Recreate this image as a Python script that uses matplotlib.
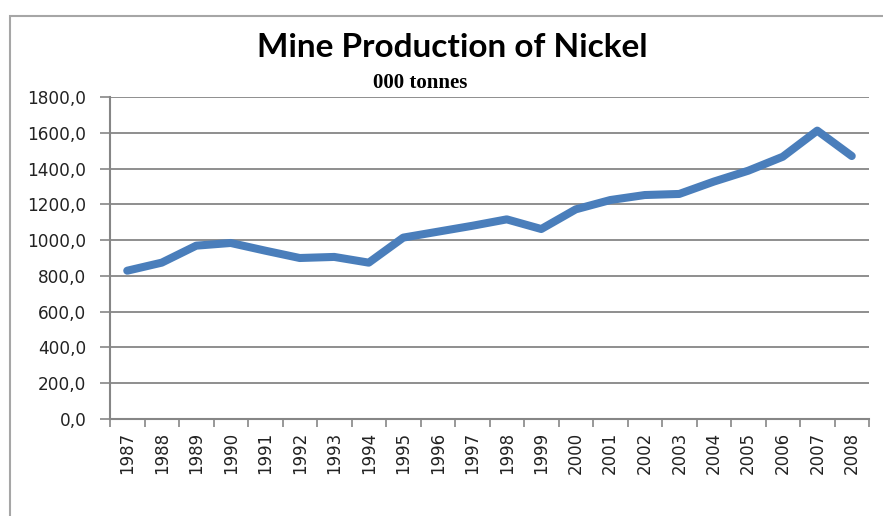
import matplotlib.pyplot as plt
import numpy as np
from matplotlib.patches import Rectangle

years = ["1987", "1988", "1989", "1990", "1991", "1992", "1993", "1994",
         "1995", "1996", "1997", "1998", "1999", "2000", "2001", "2002",
         "2003", "2004", "2005", "2006", "2007", "2008"]
production = [829, 874, 969, 984, 941, 900, 906, 874,
              1014, 1047, 1080, 1116, 1062, 1172, 1224, 1252,
              1258, 1327, 1388, 1466, 1612, 1470]
y_ticks = [0, 200, 400, 600, 800, 1000, 1200, 1400, 1600, 1800]

fig = plt.figure(figsize=(8.83, 5.16), dpi=100)

# outer chart border (cut at right/bottom like the screenshot)
fig.patches.append(Rectangle((10 / 883, -0.1), 1.1, 1 - 16 / 516 + 0.1,
                             transform=fig.transFigure, fill=False,
                             edgecolor="#a6a6a6", linewidth=1.5))

ax = fig.add_axes([110 / 883, 1 - 419 / 516, 759 / 883, 322 / 516])

x = np.arange(len(years))
ax.plot(x, production, color="#4a7ebb", linewidth=5.8, solid_joinstyle="round",
        solid_capstyle="round", zorder=3)

ax.set_xlim(-0.5, len(years) - 0.5)
ax.set_ylim(0, 1800)
ax.set_yticks(y_ticks)
ax.set_yticklabels([f"{v},0" for v in y_ticks], fontsize=12.2, color="#222222")
ax.set_xticks(x)
ax.set_xticklabels(years, rotation=90, fontsize=12, color="#222222")
ax.set_xticks(np.arange(len(years) + 1) - 0.5, minor=True)
ax.tick_params(axis="x", which="major", length=0, pad=9)
ax.tick_params(axis="x", which="minor", length=6, width=1.2, color="#868686")
ax.tick_params(axis="y", length=7, width=1.2, color="#868686", pad=10)

ax.grid(axis="y", color="#868686", linewidth=1.3)
ax.set_axisbelow(True)
for side in ["top", "right"]:
    ax.spines[side].set_visible(False)
for side in ["left", "bottom"]:
    ax.spines[side].set_color("#868686")
    ax.spines[side].set_linewidth(1.5)

fig.text(452 / 883, 1 - 48 / 516, "Mine Production of Nickel", ha="center",
         va="center", fontsize=24, fontweight="bold", family="Lato")
fig.text(420 / 883, 1 - 83 / 516, "000 tonnes", ha="center", va="center",
         fontsize=15, fontweight="bold", family="Liberation Serif")

fig.savefig("out.png", dpi=100)
